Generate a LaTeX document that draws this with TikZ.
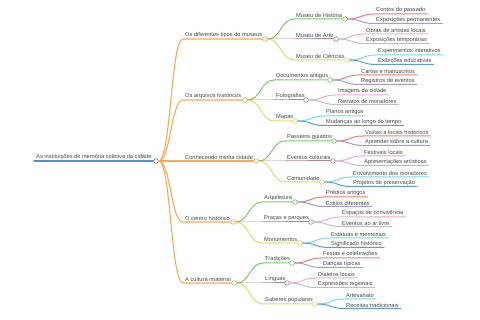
\documentclass[tikz,border=0pt]{standalone}
\usepackage{fontspec}
\setmainfont{Liberation Sans}
\usetikzlibrary{calc}
\definecolor{txt}{RGB}{72,72,72}
\definecolor{rootblue}{RGB}{85,145,205}
\definecolor{orng}{RGB}{246,170,95}
\definecolor{grn}{RGB}{125,200,115}
\definecolor{mauve}{RGB}{180,130,140}
\definecolor{ylw}{RGB}{220,220,110}
\definecolor{lred}{RGB}{235,125,125}
\definecolor{lpurp}{RGB}{165,155,220}
\definecolor{lpink}{RGB}{242,170,200}
\definecolor{lgrey}{RGB}{190,188,210}
\definecolor{lcyan}{RGB}{120,215,235}
\definecolor{lblue}{RGB}{95,155,220}

\begin{document}
\begin{tikzpicture}[x=1pt,y=-1pt,line cap=round,
  lbl/.style={anchor=south west,inner xsep=2pt,inner ysep=1pt,text=txt,font=\fontsize{5.7}{6}\selectfont},
  knot/.style={circle,draw=#1,fill=white,line width=0.7pt,minimum size=4.6pt,inner sep=0pt},
  wire/.style={line width=1pt},
  branch/.style={to path={let \p1=(\tikztostart),\p2=(\tikztotarget),\n1={0.5*(\x2-\x1)} in .. controls +(\n1,0) and +(-\n1,0) .. (\tikztotarget)}}]
  \useasboundingbox (0,0) rectangle (480,320);

  % root
  \node[lbl] (root) at (34,161) {As instituições de memória coletiva da cidade};
  \node[knot=rootblue] (d-root) at (156,161) {};
  \draw[wire,draw=rootblue,line width=1.1pt] (root.south west) -- (d-root.west);

  % first level
  \node[lbl] (mus) at (183,39) {Os diferentes tipos de museus};
  \node[knot=orng] (d-mus) at (265,39) {};
  \node[lbl] (arq) at (183,100) {Os arquivos históricos};
  \node[knot=orng] (d-arq) at (245,100) {};
  \node[lbl] (con) at (183,161) {Conhecendo minha cidade};
  \node[knot=orng] (d-con) at (256,161) {};
  \node[lbl] (cen) at (183,222) {O centro histórico};
  \node[knot=orng] (d-cen) at (233,222) {};
  \node[lbl] (cul) at (183,283) {A cultura imaterial};
  \node[knot=orng] (d-cul) at (234,283) {};

  % museus
  \node[lbl] (mh) at (294,19) {Museu de História};
  \node[knot=grn] (d-mh) at (345,19) {};
  \node[lbl] (ma) at (294,39) {Museu de Arte};
  \node[knot=mauve] (d-ma) at (336,39) {};
  \node[lbl] (mc) at (294,60) {Museu de Ciências};
  \node[knot=ylw] (d-mc) at (347,60) {};
  \node[lbl] (mh1) at (374,14) {Contos do passado};
  \node[lbl] (mh2) at (374,23.5) {Exposições permanentes};
  \node[lbl] (ma1) at (364,34) {Obras de artistas locais};
  \node[lbl] (ma2) at (364,43.5) {Exposições temporárias};
  \node[lbl] (mc1) at (376,55) {Experimentos interativos};
  \node[lbl] (mc2) at (376,64.5) {Exibições educativas};

  % arquivos
  \node[lbl] (da) at (274,80) {Documentos antigos};
  \node[knot=grn] (d-da) at (330,80) {};
  \node[lbl] (fo) at (274,100) {Fotografias};
  \node[knot=mauve] (d-fo) at (306,100) {};
  \node[lbl] (mp) at (274,121) {Mapas};
  \node[knot=ylw] (d-mp) at (295,121) {};
  \node[lbl] (da1) at (359,75) {Cartas e manuscritos};
  \node[lbl] (da2) at (359,84.5) {Registros de eventos};
  \node[lbl] (fo1) at (336,95) {Imagens da cidade};
  \node[lbl] (fo2) at (336,104.5) {Retratos de moradores};
  \node[lbl] (mp1) at (324,116) {Planos antigos};
  \node[lbl] (mp2) at (324,125.5) {Mudanças ao longo do tempo};

  % cidade
  \node[lbl] (pg) at (285,141) {Passeios guiados};
  \node[knot=grn] (d-pg) at (334,141) {};
  \node[lbl] (ec) at (285,161) {Eventos culturais};
  \node[knot=mauve] (d-ec) at (333,161) {};
  \node[lbl] (cm) at (285,182) {Comunidade};
  \node[knot=ylw] (d-cm) at (322,182) {};
  \node[lbl] (pg1) at (363,136) {Visitas a locais históricos};
  \node[lbl] (pg2) at (363,145.5) {Aprender sobre a cultura};
  \node[lbl] (ec1) at (362,156) {Festivais locais};
  \node[lbl] (ec2) at (362,165.5) {Apresentações artísticas};
  \node[lbl] (cm1) at (351,177) {Envolvimento dos moradores};
  \node[lbl] (cm2) at (351,186.5) {Projetos de preservação};

  % centro
  \node[lbl] (aq) at (262,202) {Arquitetura};
  \node[knot=grn] (d-aq) at (295,202) {};
  \node[lbl] (pp) at (262,222) {Praças e parques};
  \node[knot=mauve] (d-pp) at (311,222) {};
  \node[lbl] (mo) at (262,243) {Monumentos};
  \node[knot=ylw] (d-mo) at (300,243) {};
  \node[lbl] (aq1) at (324,197) {Prédios antigos};
  \node[lbl] (aq2) at (324,206.5) {Estilos diferentes};
  \node[lbl] (pp1) at (340,217) {Espaços de convivência};
  \node[lbl] (pp2) at (340,226.5) {Eventos ao ar livre};
  \node[lbl] (mo1) at (329,238) {Estátuas e memoriais};
  \node[lbl] (mo2) at (329,247.5) {Significado histórico};

  % cultura
  \node[lbl] (tr) at (263,263) {Tradições};
  \node[knot=grn] (d-tr) at (292,263) {};
  \node[lbl] (li) at (263,283) {Línguas};
  \node[knot=mauve] (d-li) at (287,283) {};
  \node[lbl] (sp) at (263,304) {Saberes populares};
  \node[knot=ylw] (d-sp) at (315,304) {};
  \node[lbl] (tr1) at (321,258) {Festas e celebrações};
  \node[lbl] (tr2) at (321,267.5) {Danças típicas};
  \node[lbl] (li1) at (316,278) {Dialetos locais};
  \node[lbl] (li2) at (316,287.5) {Expressões regionais};
  \node[lbl] (sp1) at (344,299) {Artesanato};
  \node[lbl] (sp2) at (344,308.5) {Receitas tradicionais};

  % connectors
  \foreach \a in {mus,arq,con,cen,cul}
    \draw[wire,draw=orng,line width=1.1pt] (d-root.east) to[branch] (\a.south west) -- (d-\a.west);
  \foreach \p/\a/\b/\c in {mus/mh/ma/mc,arq/da/fo/mp,con/pg/ec/cm,cen/aq/pp/mo,cul/tr/li/sp} {
    \draw[wire,draw=grn] (d-\p.east) to[branch] (\a.south west) -- (d-\a.west);
    \draw[wire,draw=mauve] (d-\p.east) to[branch] (\b.south west) -- (d-\b.west);
    \draw[wire,draw=ylw] (d-\p.east) to[branch] (\c.south west) -- (d-\c.west);
  }
  \foreach \a in {mh,da,pg,aq,tr} {
    \draw[wire,draw=lred] (d-\a.east) to[branch] (\a1.south west) -- (\a1.south east);
    \draw[wire,draw=lpurp] (d-\a.east) to[branch] (\a2.south west) -- (\a2.south east);
  }
  \foreach \a in {ma,fo,ec,pp,li} {
    \draw[wire,draw=lpink] (d-\a.east) to[branch] (\a1.south west) -- (\a1.south east);
    \draw[wire,draw=lgrey] (d-\a.east) to[branch] (\a2.south west) -- (\a2.south east);
  }
  \foreach \a in {mc,mp,cm,mo,sp} {
    \draw[wire,draw=lcyan] (d-\a.east) to[branch] (\a1.south west) -- (\a1.south east);
    \draw[wire,draw=lblue] (d-\a.east) to[branch] (\a2.south west) -- (\a2.south east);
  }
\end{tikzpicture}
\end{document}
